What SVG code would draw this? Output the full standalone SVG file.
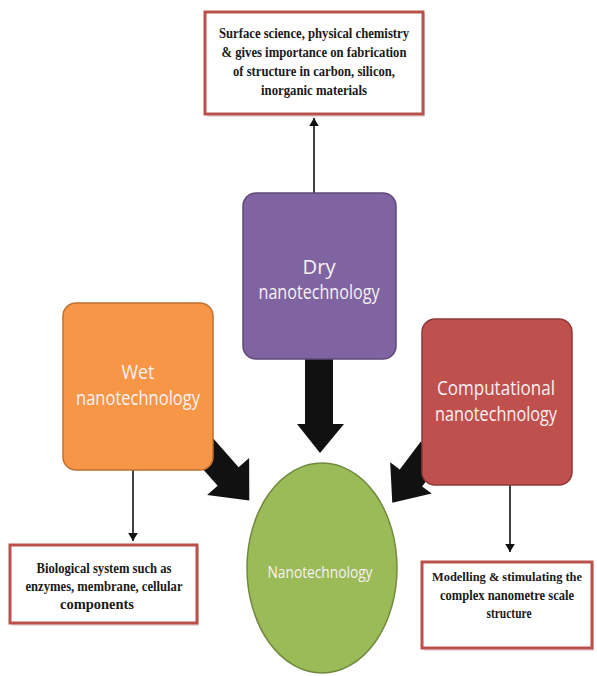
<svg xmlns="http://www.w3.org/2000/svg" width="597" height="676" viewBox="0 0 597 676">
<defs>
<style>
.box{fill:#ffffff;stroke:#b9504c;stroke-width:3}
.shadow{fill:#e6dede}
.desc{font-family:"Liberation Serif","Times New Roman",serif;font-weight:bold;font-size:15.5px;fill:#1a1a1a;text-anchor:middle}
.small{font-size:14px}
.tiny{font-size:13px}
.lbl{font-family:"Open Sans","Liberation Sans",sans-serif;font-size:20px;fill:#f7f1f4;text-anchor:middle}
.lbl2{font-size:17px}
.thin{stroke:#111;stroke-width:1.6;fill:none;marker-end:url(#ah)}
.big{fill:#111}
</style>
<marker id="ah" viewBox="0 0 10 12" refX="10" refY="6" markerWidth="5" markerHeight="6" markerUnits="strokeWidth" orient="auto">
<path d="M0,0 L10,6 L0,12 z" fill="#111"/>
</marker>
</defs>
<rect width="597" height="676" fill="#ffffff"/>

<g id="connectors">
<line class="thin" x1="314" y1="193" x2="314" y2="118"/>
<line class="thin" x1="133" y1="470" x2="133" y2="541"/>
<line class="thin" x1="510" y1="485" x2="510" y2="552"/>
<polygon class="big" points="305,358 333,358 333,424 344,424 320,453 297,424 305,424"/>
<polygon class="big" points="0,-14 38,-14 38,-28 70,0 38,28 38,14 0,14" transform="translate(203,448) rotate(48.6)"/>
<polygon class="big" points="0,-14 35,-14 35,-26 66,0 35,26 35,14 0,14" transform="translate(432,450) rotate(127)"/>
</g>

<g id="surface-science">
<rect class="shadow" x="207" y="14" width="218" height="103"/>
<rect class="box" x="205" y="12" width="218" height="102"/>
<text class="desc" x="314" y="38" textLength="190" lengthAdjust="spacingAndGlyphs">Surface science, physical chemistry</text>
<text class="desc" x="314" y="57" textLength="185" lengthAdjust="spacingAndGlyphs">&amp; gives importance on fabrication</text>
<text class="desc" x="314" y="76" textLength="162" lengthAdjust="spacingAndGlyphs">of structure in carbon, silicon,</text>
<text class="desc" x="314" y="95" textLength="106" lengthAdjust="spacingAndGlyphs">inorganic materials</text>
</g>

<g id="dry">
<rect x="243" y="193" width="153" height="166" rx="13" fill="#8064a2" stroke="#5f4a7a" stroke-width="1.5"/>
<text class="lbl" x="319" y="274" textLength="33" lengthAdjust="spacingAndGlyphs">Dry</text>
<text class="lbl" x="319" y="299" textLength="121" lengthAdjust="spacingAndGlyphs">nanotechnology</text>
</g>

<g id="wet">
<rect x="63" y="303" width="150" height="167" rx="13" fill="#f79646" stroke="#c0702f" stroke-width="1.5"/>
<text class="lbl" x="138" y="379" textLength="33" lengthAdjust="spacingAndGlyphs">Wet</text>
<text class="lbl" x="138" y="405" textLength="124" lengthAdjust="spacingAndGlyphs">nanotechnology</text>
</g>

<g id="computational">
<rect x="422" y="319" width="150" height="166" rx="13" fill="#c0504d" stroke="#8f3a38" stroke-width="1.5"/>
<text class="lbl" x="496" y="395" textLength="118" lengthAdjust="spacingAndGlyphs">Computational</text>
<text class="lbl" x="496" y="421" textLength="122" lengthAdjust="spacingAndGlyphs">nanotechnology</text>
</g>

<g id="nanotechnology">
<ellipse cx="322" cy="568" rx="75" ry="105" fill="#9bbb59" stroke="#71893f" stroke-width="1.5"/>
<text class="lbl lbl2" x="320" y="578" textLength="105" lengthAdjust="spacingAndGlyphs">Nanotechnology</text>
</g>

<g id="biological">
<rect class="shadow" x="12" y="547" width="187" height="79"/>
<rect class="box" x="10" y="545" width="187" height="78"/>
<text class="desc" x="104" y="573" textLength="135" lengthAdjust="spacingAndGlyphs">Biological system such as</text>
<text class="desc" x="104" y="591" textLength="157" lengthAdjust="spacingAndGlyphs">enzymes, membrane, cellular</text>
<text class="desc" x="97" y="609" textLength="74" lengthAdjust="spacingAndGlyphs">components</text>
</g>

<g id="modelling">
<rect class="shadow" x="424" y="564" width="170" height="87"/>
<rect class="box" x="422" y="562" width="170" height="86"/>
<text class="desc tiny" x="507" y="581" textLength="150" lengthAdjust="spacingAndGlyphs">Modelling &amp; stimulating the</text>
<text class="desc small" x="507" y="600" textLength="134" lengthAdjust="spacingAndGlyphs">complex nanometre scale</text>
<text class="desc small" x="509" y="618" textLength="45" lengthAdjust="spacingAndGlyphs">structure</text>
</g>
</svg>
